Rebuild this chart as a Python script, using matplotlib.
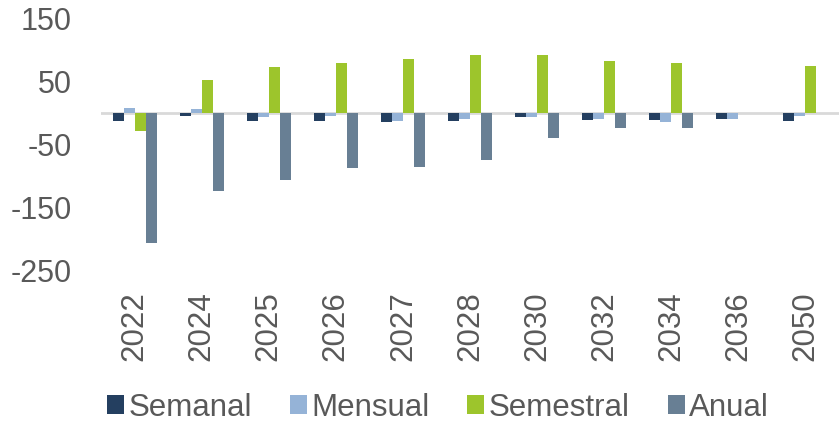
# Bar chart of weekly / monthly / semiannual / annual changes by year
#

import matplotlib.pyplot as plt
from matplotlib.patches import Patch
import numpy as np

plt.rcParams['font.family'] = ['Liberation Sans', 'DejaVu Sans']
plt.rcParams['axes.unicode_minus'] = False

# categories (years) and series values
years = ['2022', '2024', '2025', '2026', '2027', '2028', '2030', '2032', '2034', '2036', '2050']
semanal = [-12, -4, -12, -12, -15, -12, -7, -11, -11, -10, -13]
mensual = [8, 7, -7, -4, -12, -9, -7, -10, -15, -10, -4]
semestral = [-28, 52, 73, 79, 86, 92, 92, 83, 80, 0, 75]
anual = [-207, -124, -107, -87, -85, -75, -40, -23, -23, 0, 0]

series_names = ['Semanal', 'Mensual', 'Semestral', 'Anual']
colors = ['#243F60', '#95B3D7', '#9DC52C', '#687F94']
text_color = '#595959'

fig = plt.figure(figsize=(8.39, 4.22), dpi=100)
ax = fig.add_axes([101 / 839, 0.359, 738 / 839, 0.597])

x = np.arange(len(years))
width = 0.164
for i, (vals, col) in enumerate(zip([semanal, mensual, semestral, anual], colors)):
    ax.bar(x + (i - 1.5) * width, vals, width, color=col, zorder=2)

# zero line
ax.axhline(0, color='#D9D9D9', linewidth=2, zorder=1)

ax.set_xlim(-0.5, len(years) - 0.5)
ax.set_ylim(-250, 150)
ax.set_yticks([-250, -150, -50, 50, 150])
ax.set_xticks(x)
ax.set_xticklabels(years, rotation=90)

ax.tick_params(axis='y', length=0, pad=21, labelsize=22, labelcolor=text_color)
ax.tick_params(axis='x', length=0, pad=15, labelsize=22.5, labelcolor=text_color)
for s in ax.spines.values():
    s.set_visible(False)

handles = [Patch(facecolor=c, label=n) for c, n in zip(colors, series_names)]
fig.legend(handles=handles, loc='center', bbox_to_anchor=(0.522, 0.034), ncol=4,
           frameon=False, fontsize=22.5, labelcolor=text_color,
           handlelength=0.55, handleheight=0.55, handletextpad=0.15,
           columnspacing=1.2, borderpad=0, borderaxespad=0)

fig.savefig('out.png', dpi=100)
